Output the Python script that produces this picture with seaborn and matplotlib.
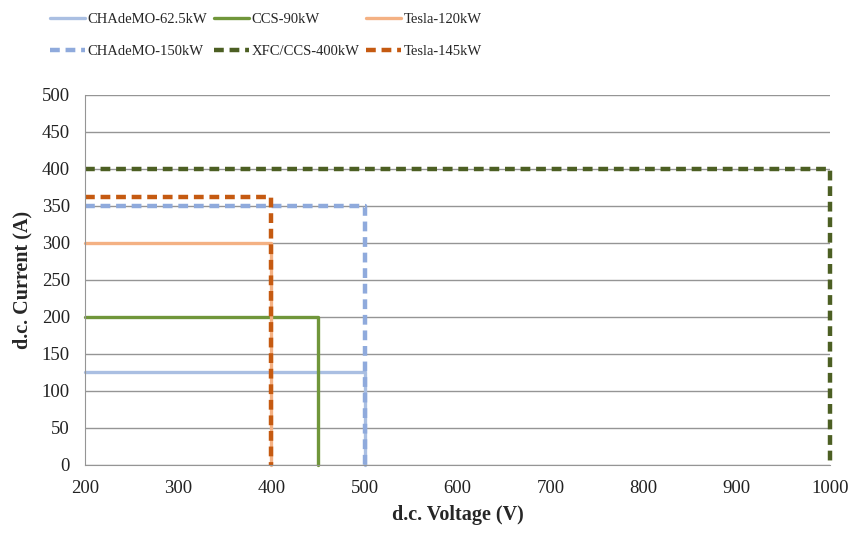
import pandas as pd
import matplotlib.pyplot as plt
import seaborn as sns

# Limites de tensão / corrente de cada carregador
nomes = ['CHAdeMO-62.5kW', 'CHAdeMO-150kW', 'CCS-90kW', 'XFC/CCS-400kW', 'Tesla-120kW', 'Tesla-145kW']
v_max = [500, 500, 450, 1000, 400, 400]
i_max = [125, 350, 200, 400, 300, 362.5]
v_min = 200
cores = ['#aabfe2', '#8faadc', '#70963a', '#4c5f23', '#f4b183', '#c55a11']
tracejado = [False, True, False, True, False, True]

sns.set_style('white')
plt.rcParams['font.family'] = ['Liberation Serif', 'DejaVu Serif']

fig, ax = plt.subplots(figsize=(8.53, 5.33), dpi=100)
fig.subplots_adjust(left=0.1, right=0.973, bottom=0.128, top=0.822)

# desenha as sólidas primeiro, tracejadas por cima
ordem = [0, 2, 4, 1, 3, 5]
linhas = {}
for k in ordem:
    df = pd.DataFrame({'V': [v_min, v_max[k], v_max[k]], 'I': [i_max[k], i_max[k], 0]})
    sns.lineplot(data=df, x='V', y='I', sort=False, estimator=None, color=cores[k], ax=ax,
                 linewidth=3.2 if tracejado[k] else 2.4, label=nomes[k], legend=False)
    ln = ax.lines[-1]
    if tracejado[k]:
        ln.set_dashes((2.2, 1.3))
    ln.set_clip_on(False)
    linhas[k] = ln

ax.set_xlim(200, 1000)
ax.set_ylim(0, 500)
ax.set_xticks(range(200, 1001, 100))
ax.set_yticks(range(0, 501, 50))
ax.yaxis.grid(True, color='#959595', linewidth=1)
ax.xaxis.grid(False)
ax.set_axisbelow(True)
for s in ['top', 'right']:
    ax.spines[s].set_visible(False)
for s in ['left', 'bottom']:
    ax.spines[s].set_color('#959595')
ax.tick_params(labelsize=13.5, colors='#222222', length=0, pad=11)

ax.set_xlabel('d.c. Voltage (V)', fontsize=14.5, fontweight='bold', labelpad=6)
ax.set_ylabel('d.c. Current (A)', fontsize=14.5, fontweight='bold', labelpad=7)

fig.legend([linhas[k] for k in range(6)], nomes, ncol=3, loc='upper left',
           bbox_to_anchor=(0.043, 1.0), frameon=False, fontsize=10.5,
           handlelength=2.4, handletextpad=0.2, columnspacing=0.45, labelspacing=1.25)

plt.savefig('out.png', dpi=100)
